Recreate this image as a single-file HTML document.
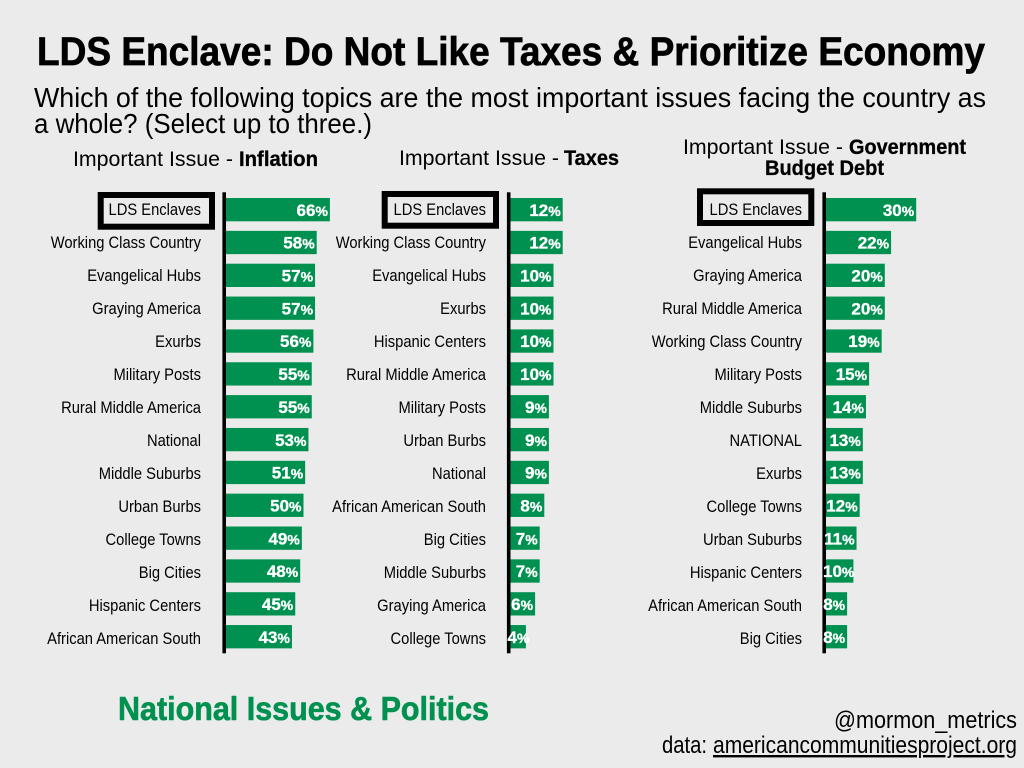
<!DOCTYPE html>
<html lang="en">
<head>
<meta charset="utf-8">
<title>LDS Enclave: Do Not Like Taxes &amp; Prioritize Economy</title>
<style>
html,body{margin:0;padding:0;background:#ebebeb;}
svg{display:block;font-family:"Liberation Sans",sans-serif;}
</style>
</head>
<body>
<svg id="chart" width="1024" height="768" viewBox="0 0 1024 768" xmlns="http://www.w3.org/2000/svg">
  <rect x="0" y="0" width="1024" height="768" fill="#ebebeb"/>
  <text x="37" y="65" font-size="40" font-weight="700" fill="#000" stroke="#000" stroke-width="0.7" textLength="948" lengthAdjust="spacingAndGlyphs">LDS Enclave: Do Not Like Taxes &amp; Prioritize Economy</text>
  <text x="34" y="107" font-size="28" fill="#000" textLength="952" lengthAdjust="spacingAndGlyphs">Which of the following topics are the most important issues facing the country as</text>
  <text x="34" y="133" font-size="28" fill="#000" textLength="338" lengthAdjust="spacingAndGlyphs">a whole? (Select up to three.)</text>

  <text x="73" y="166" font-size="21.5" fill="#000" textLength="160" lengthAdjust="spacingAndGlyphs">Important Issue -</text>
  <text x="239" y="166" font-size="21.5" font-weight="700" fill="#000" stroke="#000" stroke-width="0.3" textLength="79" lengthAdjust="spacingAndGlyphs">Inflation</text>
  <text x="399" y="165" font-size="21.5" fill="#000" textLength="160" lengthAdjust="spacingAndGlyphs">Important Issue -</text>
  <text x="564" y="165" font-size="21.5" font-weight="700" fill="#000" stroke="#000" stroke-width="0.3" textLength="55" lengthAdjust="spacingAndGlyphs">Taxes</text>
  <text x="683" y="154" font-size="21.5" fill="#000" textLength="160" lengthAdjust="spacingAndGlyphs">Important Issue -</text>
  <text x="849" y="154" font-size="21.5" font-weight="700" fill="#000" stroke="#000" stroke-width="0.3" textLength="117" lengthAdjust="spacingAndGlyphs">Government</text>
  <text x="765" y="175" font-size="21.5" font-weight="700" fill="#000" stroke="#000" stroke-width="0.3" textLength="119" lengthAdjust="spacingAndGlyphs">Budget Debt</text>

  <g id="panels"></g>

  <text x="118" y="720" font-size="33" font-weight="700" fill="#009150" stroke="#009150" stroke-width="0.6" textLength="371" lengthAdjust="spacingAndGlyphs">National Issues &amp; Politics</text>
  <text x="834" y="728" font-size="24" fill="#000" textLength="183" lengthAdjust="spacingAndGlyphs">@mormon_metrics</text>
  <text x="662" y="753" font-size="24" fill="#000" textLength="45" lengthAdjust="spacingAndGlyphs">data:</text>
  <text x="713" y="753" font-size="24" fill="#000" text-decoration="underline" textLength="304" lengthAdjust="spacingAndGlyphs">americancommunitiesproject.org</text>
</svg>
<script>
const inflationCategories = ["LDS Enclaves","Working Class Country","Evangelical Hubs","Graying America","Exurbs","Military Posts","Rural Middle America","National","Middle Suburbs","Urban Burbs","College Towns","Big Cities","Hispanic Centers","African American South"];
const inflationValues = [66,58,57,57,56,55,55,53,51,50,49,48,45,43];
const taxesCategories = ["LDS Enclaves","Working Class Country","Evangelical Hubs","Exurbs","Hispanic Centers","Rural Middle America","Military Posts","Urban Burbs","National","African American South","Big Cities","Middle Suburbs","Graying America","College Towns"];
const taxesValues = [12,12,10,10,10,10,9,9,9,8,7,7,6,4];
const debtCategories = ["LDS Enclaves","Evangelical Hubs","Graying America","Rural Middle America","Working Class Country","Military Posts","Middle Suburbs","NATIONAL","Exurbs","College Towns","Urban Suburbs","Hispanic Centers","African American South","Big Cities"];
const debtValues = [30,22,20,20,19,15,14,13,13,12,11,10,8,8];

const NS = "http://www.w3.org/2000/svg";
const GREEN = "#009150";
const ROW_STEP = 32.85;
const root = document.getElementById("panels");

function make(tag, attrs, parent) {
  const el = document.createElementNS(NS, tag);
  for (const k in attrs) el.setAttribute(k, attrs[k]);
  parent.appendChild(el);
  return el;
}
function yBar(i) { return 198 + ROW_STEP * i; }
function yLabel(i) { return 214.8 + 33 * i; }
function yValue(i) { return 215.8 + ROW_STEP * i; }

function drawPanel(id, categories, values, labelRight, axisX, zeroX, slope, boxX, boxY) {
  const xScale = function (v) { return zeroX + slope * v; };
  const group = make("g", {}, root);
  
  

  const axis = make("rect", { x: axisX - 3.6, y: 192.3, width: 3.6, height: 461, fill: "#000" }, group);
  
  

  categories.forEach(function (name, i) {
    const end = xScale(values[i]);
    const bar = make("rect", { x: axisX, y: yBar(i), width: Math.max(0, end - axisX), height: 23.3, fill: GREEN }, group);
    
    

    const label = make("text", {
      transform: "translate(" + labelRight + "," + yLabel(i) + ") scale(0.91,1)",
      "text-anchor": "end", "font-size": 16.2, fill: "#000"
    }, group);
    
    
    label.textContent = name;

    const value = make("text", {
      "text-anchor": "end", "font-size": 17, "font-weight": 700, fill: "#fff", stroke: "#fff", "stroke-width": 0.3
    }, group);
    
    
    value.appendChild(document.createTextNode(values[i]));
    const pct = make("tspan", { "font-size": 14 }, value);
    pct.textContent = "%";
    const len = value.getComputedTextLength();
    const right = Math.max(end - 2, axisX + len - 3);
    value.setAttribute("x", right);
    value.setAttribute("y", yValue(i));
  });

  const box = make("rect", { x: boxX, y: boxY, width: 111.3, height: 31.7, fill: "none", stroke: "#000", "stroke-width": 6 }, group);
  
  
}

drawPanel("inflation-panel", inflationCategories, inflationValues, 201, 226, 221, 1.65, 100.7, 195);
drawPanel("taxes-panel", taxesCategories, taxesValues, 486, 510.5, 507.5, 4.6, 384.7, 194);
drawPanel("debt-panel", debtCategories, debtValues, 802, 826, 822, 3.14, 700, 191.3);
</script>
</body>
</html>
